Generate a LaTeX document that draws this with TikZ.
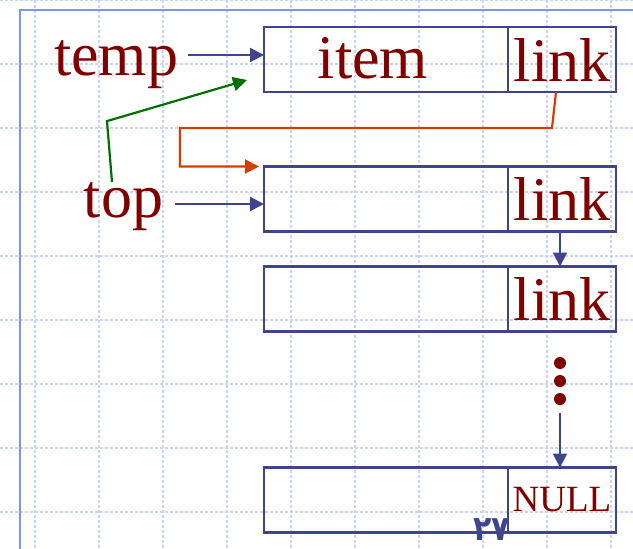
\documentclass[tikz,border=0pt]{standalone}
\usepackage{fontspec}
\setmainfont{Liberation Serif}
\newfontfamily\arabicfont[Script=Arabic]{DejaVu Sans}
\usetikzlibrary{arrows.meta,positioning,calc}
\definecolor{textred}{RGB}{128,0,0}
\definecolor{boxblue}{RGB}{62,68,142}
\definecolor{gridblue}{RGB}{200,212,250}
\definecolor{frameblue}{RGB}{125,148,240}
\definecolor{ptrgreen}{RGB}{0,112,0}
\definecolor{ptrred}{RGB}{212,62,0}

\begin{document}
\begin{tikzpicture}[x=1pt,y=-1pt,
          cell/.style={draw=boxblue,line width=2.2pt,minimum height=65pt,inner sep=0pt,outer sep=0pt,
                       text=textred,font=\fontsize{62}{70}\selectfont},
          datacell/.style={cell,minimum width=244pt},
          linkcell/.style={cell,minimum width=108pt},
          word/.style={text=textred,font=\fontsize{62}{70}\selectfont,inner sep=0pt,outer sep=0pt},
          ptr/.style={-{Triangle[length=14pt,width=14pt]},line width=2.2pt,color=boxblue},
          gridline/.style={gridblue,line width=1.5pt,dash pattern=on 3pt off 2pt},
          dot/.style={circle,fill=textred,minimum size=12pt,inner sep=0pt,outer sep=0pt}]
        \useasboundingbox (0,0) rectangle (633,549);
        % paper
        \foreach \y in {0,64,...,512} \draw[gridline] (0,\y) -- (633,\y);
        \foreach \x in {35,99,...,611} \draw[gridline] (\x,0) -- (\x,549);
        \draw[frameblue,line width=2pt] (19.5,549) -- (19.5,9.5) -- (633,9.5);

        % list nodes
        \node[datacell] (d1) at (386,59.5) {};
        \node[linkcell,anchor=west] (l1) at (d1.east) {link};
        \node[datacell] (d2) at (386,199) {};
        \node[linkcell,anchor=west] (l2) at (d2.east) {link};
        \node[datacell] (d3) at (386,299) {};
        \node[linkcell,anchor=west] (l3) at (d3.east) {link};
        \node[datacell] (d4) at (386,500) {};
        \node[linkcell,anchor=west,font=\fontsize{37}{40}\selectfont] (l4) at (d4.east) {NULL};
        \node[word,anchor=base] (itm) at (373,78) {item};

        \node[word,anchor=base] (temp) at (116,75) {temp};
        \node[word,anchor=base] (top) at (123.5,217) {top};

        \foreach \i/\y in {1/363,2/381,3/399} \node[dot] (dot\i) at (560,\y) {};

        \draw[ptr] ($(temp.east |- d1.west)+(10,-4.5)$) -- ($(d1.west)+(0,-4.5)$);
        \draw[ptr] ($(top.east |- d2.west)+(12,5)$) -- ($(d2.west)+(0,5)$);
        \draw[ptr,ptrgreen] ($(top.north)+(-11.5,0)$) -- ++(-5,-61) -- ($(d1.west)+(-17,20.5)$);
        \draw[ptr,ptrred] ($(l1.south)+(-6,0)$) -- ++(-4,36) -| ($(d2.north west)+(-84,0)$)
              -- ($(d2.north west)+(-5,0)$);
        \draw[ptr] ($(l2.south)+(-2,0)$) -- ($(l3.north)+(-2,0)$);
        \draw[ptr] ($(dot3.south)+(0,8)$) -- ($(l4.north)+(-2,0)$);

        \node[font=\arabicfont\bfseries\fontsize{30}{36}\selectfont,text=boxblue,inner sep=0pt,anchor=south] (pnum) at (492,541) {\scalebox{1}[1.15]{۲۷}};
      \end{tikzpicture}
\end{document}
